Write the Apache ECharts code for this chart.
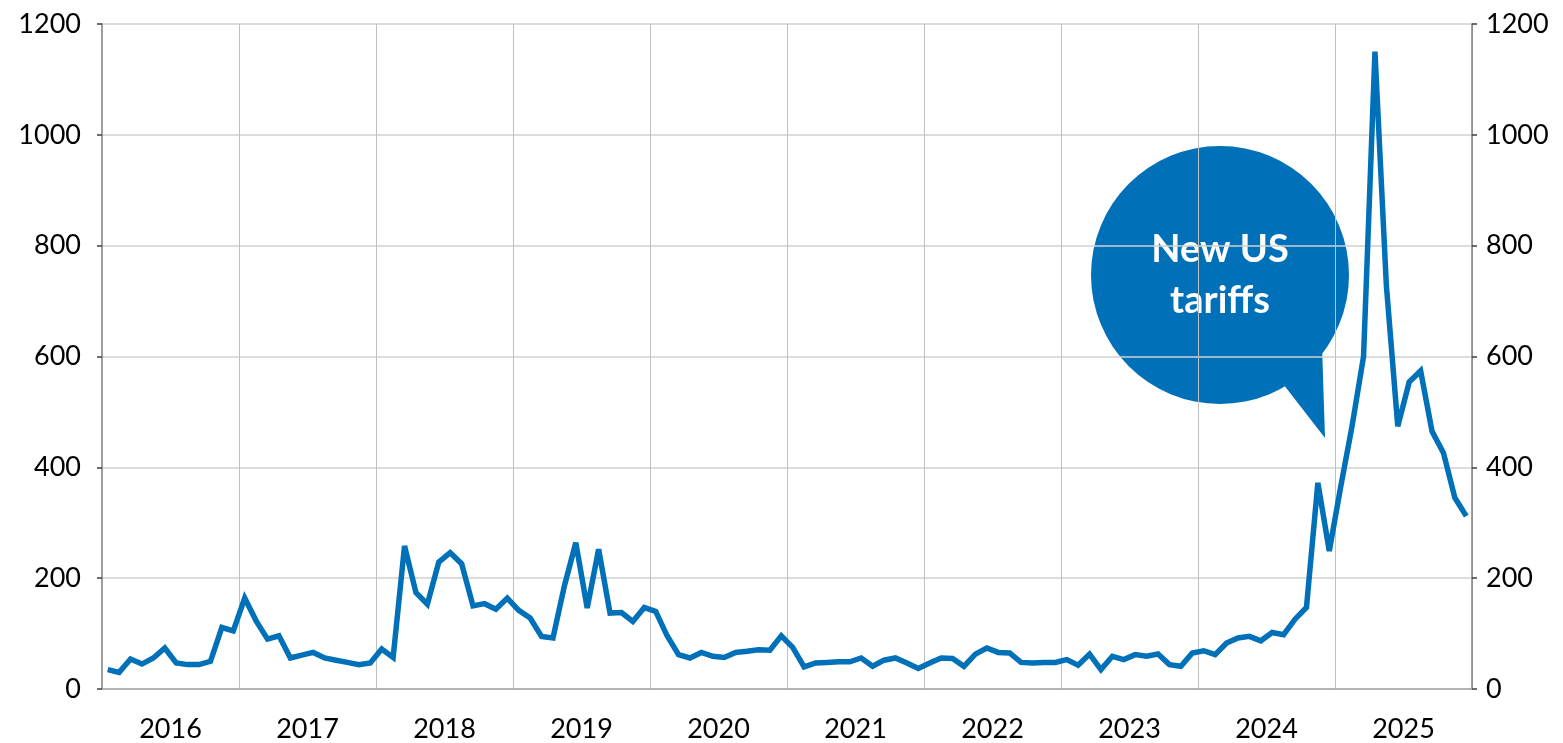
<!DOCTYPE html>
<html>
<head>
<meta charset="utf-8">
<title>New US tariffs</title>
<script src="https://cdn.jsdelivr.net/npm/echarts@6/dist/echarts.min.js"></script>
<style>
  html, body { margin: 0; padding: 0; background: #fff; }
  #chart { width: 1563px; height: 743px; }
</style>
</head>
<body>
<div id="chart"></div>
<script>
// tick labels
const years = ["2016", "2017", "2018", "2019", "2020", "2021", "2022", "2023", "2024", "2025"];
const yTicks = [0, 200, 400, 600, 800, 1000, 1200];

// monthly categories, Jan 2016 .. Dec 2025
const months = [];
years.forEach((y) => {
  for (let m = 1; m <= 12; m++) months.push(y + "-" + (m < 10 ? "0" + m : m));
});

// values, one per month
const v2016 = [35, 30, 54, 45, 56, 74, 47, 44, 44, 50, 111, 105];
const v2017 = [164, 123, 90, 96, 56, 61, 66, 56, 52, 48, 44, 47];
const v2018 = [72, 57, 258, 174, 153, 229, 246, 226, 150, 154, 144, 164];
const v2019 = [142, 128, 95, 92, 186, 264, 146, 252, 137, 138, 122, 147];
const v2020 = [140, 96, 62, 56, 66, 59, 57, 66, 68, 71, 70, 96];
const v2021 = [75, 40, 47, 48, 49, 49, 56, 41, 52, 56, 47, 37];
const v2022 = [47, 56, 55, 41, 63, 74, 66, 65, 48, 47, 48, 48];
const v2023 = [53, 43, 63, 35, 59, 53, 62, 59, 63, 44, 41, 65];
const v2024 = [69, 62, 83, 92, 95, 87, 102, 98, 126, 147, 372, 249];
const v2025 = [365, 475, 600, 1150, 728, 474, 554, 574, 465, 426, 345, 312];
const values = [].concat(v2016, v2017, v2018, v2019, v2020, v2021, v2022, v2023, v2024, v2025);

const blue = "#0070b8";
const font = "Lato, 'Open Sans', sans-serif";

const chart = echarts.init(document.getElementById("chart"));

const yAxisBase = {
  type: "value",
  min: yTicks[0],
  max: yTicks[yTicks.length - 1],
  interval: 200,
  axisLine: { show: true, lineStyle: { color: "#7f7f7f", width: 1.5 } },
  axisTick: { show: true, length: 5, lineStyle: { color: "#3f3f3f", width: 1.5 } },
  axisLabel: { color: "#000", fontSize: 27, fontFamily: font, formatter: (v) => String(v) },
};

chart.setOption({
  animation: false,
  grid: { left: 102, right: 91, top: 24, bottom: 51, containLabel: false },
  xAxis: [
    {
      type: "category",
      data: months,
      boundaryGap: true,
      axisLine: { show: true, lineStyle: { color: "#a6a6a6", width: 1.5 } },
      axisTick: { show: false },
      axisLabel: { show: false },
      splitLine: {
        show: true,
        interval: (i) => i % 12 === 0 && i > 0,
        lineStyle: { color: "#c0c0c0", width: 1 },
      },
    },
    {
      type: "category",
      data: years,
      position: "bottom",
      boundaryGap: true,
      axisLine: { show: false },
      axisTick: { show: false },
      splitLine: { show: false },
      axisLabel: { color: "#000", fontSize: 27, fontFamily: font, margin: 27 },
    },
  ],
  yAxis: [
    Object.assign({}, yAxisBase, {
      position: "left",
      axisLabel: Object.assign({}, yAxisBase.axisLabel, { margin: 21 }),
      splitLine: { show: true, lineStyle: { color: "#d0d0d0", width: 1.5 } },
    }),
    Object.assign({}, yAxisBase, {
      position: "right",
      axisLabel: Object.assign({}, yAxisBase.axisLabel, { margin: 14 }),
      splitLine: { show: false },
    }),
  ],
  series: [
    {
      type: "line",
      xAxisIndex: 0,
      yAxisIndex: 0,
      data: values,
      showSymbol: false,
      symbol: "none",
      lineStyle: { color: blue, width: 5.5, join: "miter", miterLimit: 4 },
      z: 3,
    },
  ],
  graphic: [
    {
      type: "group",
      z: 10,
      children: [
        {
          type: "circle",
          shape: { cx: 1220, cy: 275, r: 129 },
          style: { fill: blue },
        },
        {
          type: "polygon",
          shape: { points: [[1280, 380], [1322, 345], [1325, 438]] },
          style: { fill: blue },
        },
        {
          type: "text",
          x: 1220,
          y: 250,
          style: {
            text: "New US",
            fill: "#fff",
            font: "bold 38px " + font,
            align: "center",
            verticalAlign: "middle",
          },
        },
        {
          type: "text",
          x: 1220,
          y: 301,
          style: {
            text: "tariffs",
            fill: "#fff",
            font: "bold 38px " + font,
            align: "center",
            verticalAlign: "middle",
          },
        },
      ],
    },
  ],
});
</script>
</body>
</html>
